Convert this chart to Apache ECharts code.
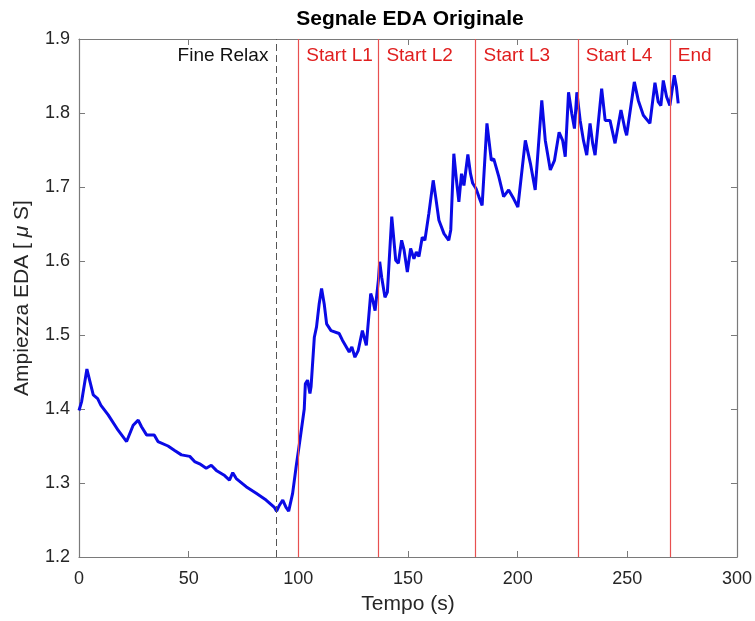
<!DOCTYPE html>
<html>
<head>
<meta charset="utf-8">
<script src="https://cdn.jsdelivr.net/npm/echarts@6/dist/echarts.min.js"></script>
<style>
  html, body { margin: 0; padding: 0; background: #fff; }
  #chart { width: 755px; height: 621px; }
</style>
</head>
<body>
<div id="chart"></div>
<script>
// tempo (s) e ampiezza EDA
const tempo = [0, 1.2, 3.6, 5, 6.5, 8.5, 10, 13.3, 17.9, 21.7, 22.4, 24.7, 27, 28.5, 30.8, 34.3, 36, 40.6, 43.6, 46.7, 50.5,
  52.7, 55, 58, 60.3, 62.6, 66.4, 68.6, 70.1, 71.7, 76.2, 80.8, 85.3, 89.1, 90.1, 91.4, 92.9, 94.4, 95.6, 97.4, 99, 100.5,
  102.7, 103.2, 104.2, 105.3, 105.8, 107.3, 108.3, 109.5, 110.6, 111.8, 112.9, 114.9, 118.6, 120.1, 123.2, 124.4, 125.8,
  127.3, 129.2, 130, 131, 133, 133.8, 135, 136.5, 137.1, 138, 139.5, 140.6, 142.6, 144.4, 145.6, 147.1, 148.2, 149.7,
  151.2, 152.7, 153.8, 155, 156.5, 157.7, 159.5, 161.5, 162.6, 164.1, 166.4, 168.6, 169.5, 170.9, 172.1, 173.2, 174.4,
  175.5, 177.3, 178.5, 179.5, 181, 182.3, 183.8, 186, 188, 189.1, 191.4, 193.6, 195.9, 198.2, 200.1, 203.5, 205.8, 208,
  211, 212.6, 214.9, 216.8, 218.9, 220.5, 221.7, 223.2, 224.7, 225.9, 227, 228.5, 230, 231.5, 233, 234.2, 235.3, 238.3,
  239.9, 242.1, 244.4, 247.1, 249, 249.7, 253.2, 255, 257.3, 260.3, 262.6, 264.1, 265.3, 266.4, 267.9, 269.4, 271.4,
  272.4, 273.2];
const eda = [1.398, 1.41, 1.454, 1.437, 1.419, 1.414, 1.405, 1.392, 1.371, 1.356, 1.355, 1.378, 1.385, 1.376, 1.365,
  1.365, 1.356, 1.35, 1.344, 1.338, 1.336, 1.329, 1.326, 1.32, 1.324, 1.317, 1.31, 1.304, 1.314, 1.306, 1.295, 1.286,
  1.277, 1.267, 1.262, 1.27, 1.277, 1.267, 1.262, 1.286, 1.322, 1.353, 1.4, 1.434, 1.439, 1.421, 1.43, 1.497, 1.511,
  1.542, 1.563, 1.542, 1.515, 1.506, 1.502, 1.493, 1.477, 1.484, 1.47, 1.479, 1.506, 1.497, 1.486, 1.556, 1.549, 1.533,
  1.574, 1.599, 1.578, 1.551, 1.558, 1.66, 1.601, 1.597, 1.628, 1.615, 1.585, 1.617, 1.603, 1.612, 1.606, 1.632, 1.628,
  1.664, 1.709, 1.687, 1.655, 1.637, 1.628, 1.642, 1.745, 1.709, 1.68, 1.718, 1.702, 1.744, 1.718, 1.705, 1.698, 1.687,
  1.675, 1.786, 1.736, 1.738, 1.714, 1.687, 1.696, 1.684, 1.673, 1.763, 1.732, 1.696, 1.817, 1.763, 1.723, 1.736, 1.774,
  1.763, 1.741, 1.828, 1.799, 1.779, 1.828, 1.79, 1.763, 1.743, 1.786, 1.759, 1.743, 1.833, 1.79, 1.79, 1.759, 1.804,
  1.777, 1.77, 1.842, 1.817, 1.797, 1.786, 1.841, 1.815, 1.81, 1.844, 1.822, 1.81, 1.851, 1.835, 1.813];

// eventi
const fineRelax = 90;
const eventi = [100, 136.5, 180.8, 227.4, 269.4];
const nomiEventi = ['Start L1', 'Start L2', 'Start L3', 'Start L4', 'End'];

const font = 'Liberation Sans, Arial, sans-serif';
const grey = '#7a7a7a';
const textCol = '#262626';

var myChart = echarts.init(document.getElementById('chart'));

var labelY = 1.877;
var labelData = [{ value: [fineRelax, labelY], name: 'Fine Relax', label: { position: 'left', color: '#111111' } }];
for (var i = 0; i < eventi.length; i++) {
  labelData.push({ value: [eventi[i], labelY], name: nomiEventi[i], label: { position: 'right', color: '#e01e1e' } });
}

var axisCommon = {
  axisLine: { show: true, onZero: false, lineStyle: { color: grey, width: 1.2 } },
  axisTick: { show: true, inside: true, length: 6, lineStyle: { color: grey } },
  splitLine: { show: false }
};

var option = {
  animation: false,
  title: {
    text: 'Segnale EDA Originale',
    left: 405, top: 4, textAlign: 'center',
    textStyle: { fontFamily: font, fontSize: 21, fontWeight: 'bold', color: '#000' }
  },
  grid: { left: 79, right: 16, top: 39, bottom: 64 },
  xAxis: [
    Object.assign({
      type: 'value', min: 0, max: 300, interval: 50,
      name: 'Tempo (s)', nameLocation: 'middle', nameGap: 37,
      nameTextStyle: { fontFamily: font, fontSize: 21, color: textCol },
      axisLabel: { fontFamily: font, fontSize: 18, color: textCol, margin: 13 }
    }, axisCommon),
    Object.assign({
      type: 'value', min: 0, max: 300, interval: 50, position: 'top',
      axisLabel: { show: false }
    }, axisCommon)
  ],
  yAxis: [
    Object.assign({
      type: 'value', min: 1.2, max: 1.9, interval: 0.1,
      name: 'Ampiezza EDA [ {i|μ} S]', nameLocation: 'middle', nameGap: 46,
      nameTextStyle: { fontFamily: font, fontSize: 21, color: textCol,
        rich: { i: { fontFamily: font, fontSize: 21, fontStyle: 'italic', color: textCol } } },
      axisLabel: { fontFamily: font, fontSize: 18, color: textCol, margin: 9,
        formatter: function (v) { return v.toFixed(1); } }
    }, axisCommon),
    Object.assign({
      type: 'value', min: 1.2, max: 1.9, interval: 0.1, position: 'right',
      axisLabel: { show: false }
    }, axisCommon)
  ],
  series: [
    {
      name: 'EDA',
      type: 'line',
      data: tempo.map(function (t, k) { return [t, eda[k]]; }),
      showSymbol: false,
      lineStyle: { color: '#0a0ae6', width: 3 },
      z: 3,
      markLine: {
        silent: true,
        symbol: 'none',
        label: { show: false },
        lineStyle: { color: '#e85050', type: 'solid', width: 1.2 },
        data: [{ xAxis: fineRelax, lineStyle: { color: '#555555', type: [7, 4], width: 1 } }]
          .concat(eventi.map(function (e) { return { xAxis: e }; }))
      }
    },
    {
      name: 'etichette',
      type: 'scatter',
      symbolSize: 0,
      itemStyle: { opacity: 1 },
      data: labelData,
      label: {
        show: true,
        formatter: function (p) { return p.name; },
        fontFamily: font, fontSize: 19, distance: 8
      },
      z: 4
    }
  ]
};

myChart.setOption(option);
</script>
</body>
</html>
